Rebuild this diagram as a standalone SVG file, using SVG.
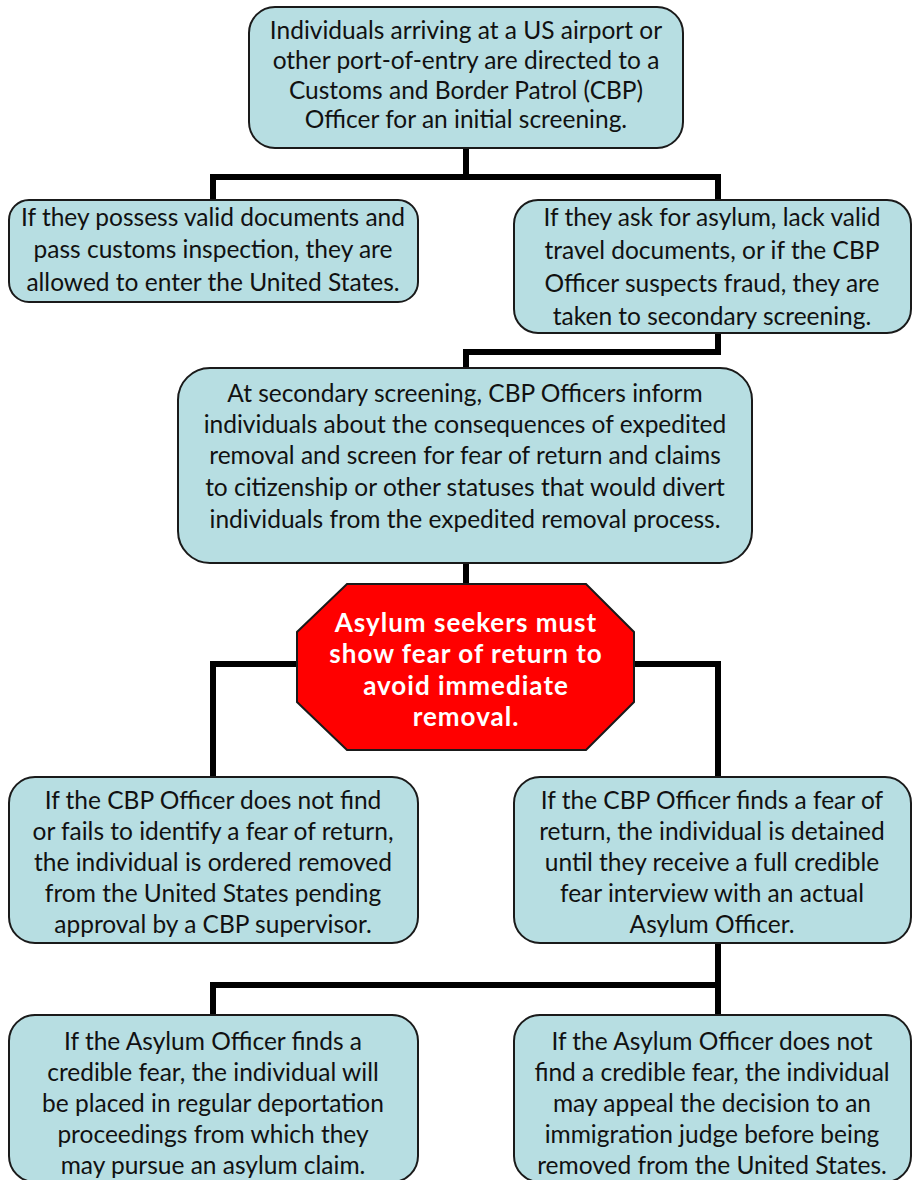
<svg xmlns="http://www.w3.org/2000/svg" width="912" height="1180" viewBox="0 0 912 1180">
<style>
.box{fill:#B7DEE2;stroke:#1a1a1a;stroke-width:2}
.oct{fill:#FF0000;stroke:#1a1a1a;stroke-width:2}
.t{font-family:Lato,"Liberation Sans",sans-serif;font-size:24.5px;fill:#111;text-anchor:middle}
.w{font-family:Lato,"Liberation Sans",sans-serif;font-size:26px;font-weight:bold;letter-spacing:1px;fill:#fff;text-anchor:middle}
.c{fill:none;stroke:#000;stroke-width:6;stroke-linejoin:miter;stroke-linecap:butt}
</style>
<rect width="912" height="1180" fill="#fff"/>
<g id="connectors">
<path class="c" d="M466 148V177M213 177H718M213 174V200M718 174V200"/>
<path class="c" d="M718 333V352H466V368"/>
<path class="c" d="M466 563V584"/>
<path class="c" d="M297 664H213V777M634 664H718V777"/>
<path class="c" d="M718 943V1015M718 985H213V1015"/>
</g>
<g id="n1">
<rect class="box" x="249" y="7" width="434" height="141" rx="26"/>
<text class="t" x="466" y="39">Individuals arriving at a US airport or</text>
<text class="t" x="466" y="69">other port-of-entry are directed to a</text>
<text class="t" x="466" y="98.5">Customs and Border Patrol (CBP)</text>
<text class="t" x="466" y="128">Officer for an initial screening.</text>
</g>
<g id="n2">
<rect class="box" x="9" y="200" width="409" height="102" rx="20"/>
<text class="t" x="213" y="226">If they possess valid documents and</text>
<text class="t" x="213" y="258">pass customs inspection, they are</text>
<text class="t" x="213" y="291">allowed to enter the United States.</text>
</g>
<g id="n3">
<rect class="box" x="514" y="200" width="397" height="133" rx="24"/>
<text class="t" x="712" y="226">If they ask for asylum, lack valid</text>
<text class="t" x="712" y="259">travel documents, or if the CBP</text>
<text class="t" x="712" y="292">Officer suspects fraud, they are</text>
<text class="t" x="712" y="325">taken to secondary screening.</text>
</g>
<g id="n4">
<rect class="box" x="178" y="368" width="574" height="195" rx="32"/>
<text class="t" x="465" y="402">At secondary screening, CBP Officers inform</text>
<text class="t" x="465" y="433">individuals about the consequences of expedited</text>
<text class="t" x="465" y="464">removal and screen for fear of return and claims</text>
<text class="t" x="465" y="496">to citizenship or other statuses that would divert</text>
<text class="t" x="465" y="528">individuals from the expedited removal process.</text>
</g>
<g id="n5">
<polygon class="oct" points="347,584 586,584 634,632 634,702 586,750 347,750 297,702 297,632"/>
<text class="w" x="466" y="632">Asylum seekers must</text>
<text class="w" x="466" y="663">show fear of return to</text>
<text class="w" x="466" y="695">avoid immediate</text>
<text class="w" x="466" y="726">removal.</text>
</g>
<g id="n6">
<rect class="box" x="9" y="777" width="409" height="166" rx="26"/>
<text class="t" x="213" y="809">If the CBP Officer does not find</text>
<text class="t" x="213" y="840">or fails to identify a fear of return,</text>
<text class="t" x="213" y="871">the individual is ordered removed</text>
<text class="t" x="213" y="902">from the United States pending</text>
<text class="t" x="213" y="933">approval by a CBP supervisor.</text>
</g>
<g id="n7">
<rect class="box" x="514" y="777" width="397" height="166" rx="26"/>
<text class="t" x="712" y="809">If the CBP Officer finds a fear of</text>
<text class="t" x="712" y="840">return, the individual is detained</text>
<text class="t" x="712" y="871">until they receive a full credible</text>
<text class="t" x="712" y="902">fear interview with an actual</text>
<text class="t" x="712" y="933">Asylum Officer.</text>
</g>
<g id="n8">
<rect class="box" x="9" y="1015" width="409" height="167" rx="26"/>
<text class="t" x="213" y="1050">If the Asylum Officer finds a</text>
<text class="t" x="213" y="1081">credible fear, the individual will</text>
<text class="t" x="213" y="1112">be placed in regular deportation</text>
<text class="t" x="213" y="1143">proceedings from which they</text>
<text class="t" x="213" y="1174">may pursue an asylum claim.</text>
</g>
<g id="n9">
<rect class="box" x="514" y="1015" width="397" height="167" rx="26"/>
<text class="t" x="712" y="1050">If the Asylum Officer does not</text>
<text class="t" x="712" y="1081">find a credible fear, the individual</text>
<text class="t" x="712" y="1112">may appeal the decision to an</text>
<text class="t" x="712" y="1143">immigration judge before being</text>
<text class="t" x="712" y="1174">removed from the United States.</text>
</g>
</svg>
